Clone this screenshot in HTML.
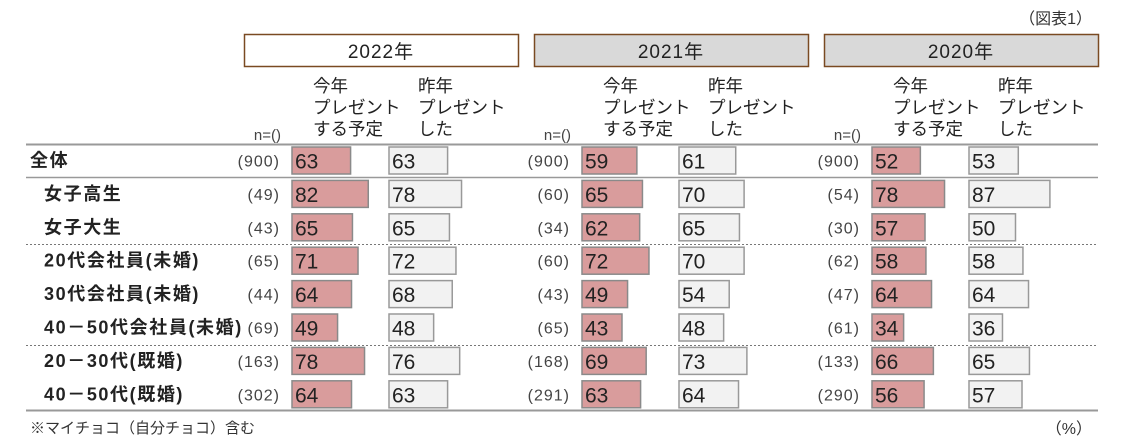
<!DOCTYPE html>
<html><head><meta charset="utf-8"><style>
body{margin:0;background:#fff;}
svg{display:block;font-family:"Liberation Sans","Noto Sans CJK JP",sans-serif;}
</style></head><body>
<svg id="c" width="1125" height="445" viewBox="0 0 1125 445">
<text x="1092" y="24" font-size="16" text-anchor="end" fill="#333">（図表1）</text>
<text x="30" y="433" font-size="15" fill="#333">※マイチョコ（自分チョコ）含む</text>
<text x="1092" y="434" font-size="16" text-anchor="end" fill="#333">（%）</text>
</svg>
<script>
const categories=["全体","女子高生","女子大生","20代会社員(未婚)","30代会社員(未婚)","40－50代会社員(未婚)","20－30代(既婚)","40－50代(既婚)"];
const years=["2022年","2021年","2020年"];
const n2022=[900,49,43,65,44,69,163,302];
const n2021=[900,60,34,60,43,65,168,291];
const n2020=[900,54,30,62,47,61,133,290];
const plan2022=[63,82,65,71,64,49,78,64];
const last2022=[63,78,65,72,68,48,76,63];
const plan2021=[59,65,62,72,49,43,69,63];
const last2021=[61,70,65,70,54,48,73,64];
const plan2020=[52,78,57,58,64,34,66,56];
const last2020=[53,87,50,58,64,36,65,57];
const ns=[n2022,n2021,n2020],plans=[plan2022,plan2021,plan2020],lasts=[last2022,last2021,last2020];
const svg=document.getElementById('c');const NS='http://www.w3.org/2000/svg';
function mk(t,a,txt){const e=document.createElementNS(NS,t);for(const k in a)e.setAttribute(k,a[k]);if(txt!==undefined)e.textContent=txt;svg.appendChild(e);return e;}
const panelX=[244,534,824];const W=0.93;
function rowY(i){return 147+i*33.4;}
function bw(v){return v*W;}
years.forEach((y,p)=>{
 const r=mk('rect',{x:panelX[p]+0.5,y:34.5,width:274,height:32,fill:p===0?'#fff':'#d9d9d9',stroke:'#7a4a22','stroke-width':1.5});
 
 
 const t=mk('text',{x:panelX[p]+137,y:58,'font-size':19,'text-anchor':'middle',fill:'#222','letter-spacing':1},y);
 
 
 const nt=mk('text',{x:panelX[p]+37,y:140,'font-size':15,'text-anchor':'end',fill:'#444'},'n=()');
 
 
 [['今年','プレゼント','する予定'],['昨年','プレゼント','した']].forEach((lines,c)=>{
  lines.forEach((l,li)=>{
   const ht=mk('text',{x:panelX[p]+69+c*105,y:92+li*21.5,'font-size':17.5,fill:'#222'},l);
   
   
  });
 });
});
function hline(y,dash,col,w,name){const l=mk('line',{x1:26,x2:1098,y1:y,y2:y,stroke:col,'stroke-width':w});if(dash)l.setAttribute('stroke-dasharray',dash);
 
 }
hline(144.5,null,'#999',2,'header-rule');
hline(177.5,null,'#999',1.5,'total-rule');
hline(244.5,'2,2','#777',1,'group-divider');
hline(345.5,'2,2','#777',1,'group-divider');
hline(410.5,null,'#999',2,'bottom-rule');
categories.forEach((cat,i)=>{
 const y=rowY(i),cy=y+13.5;
 const lt=mk('text',{x:i===0?30:44,y:cy+6,'font-size':18,'font-weight':'bold',fill:'#222','letter-spacing':1.6},cat);
 
 
 for(let p=0;p<3;p++){
  const nt=mk('text',{x:panelX[p]+36,y:cy+6,'font-size':16,'text-anchor':'end',fill:'#444','letter-spacing':1},'('+ns[p][i]+')');
  
  
  const px=panelX[p]+48,gx=panelX[p]+145;
  const b1=mk('rect',{x:px,y:y,width:bw(plans[p][i]),height:27,fill:'#d99c9c',stroke:'#8a8a8a','stroke-width':1.5});
  
  
  const t1=mk('text',{x:px+3,y:cy+8,'font-size':21,fill:'#222'},plans[p][i]);
  
  
  const b2=mk('rect',{x:gx,y:y,width:bw(lasts[p][i]),height:27,fill:'#f2f2f2',stroke:'#999','stroke-width':1.5});
  
  
  const t2=mk('text',{x:gx+3,y:cy+8,'font-size':21,fill:'#222'},lasts[p][i]);
  
  
 }
});
</script>
</body></html>
